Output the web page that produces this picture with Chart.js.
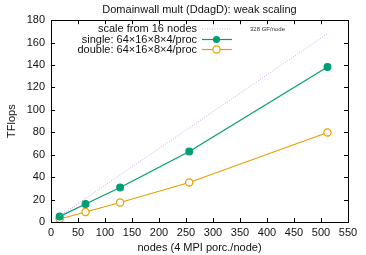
<!DOCTYPE html>
<html>
<head>
<title>weak scaling</title>
<script src="https://cdn.jsdelivr.net/npm/chart.js@4.4.1/dist/chart.umd.min.js"></script>
<style>
body { margin:0; background:#fff; }
#wrap { width:366px; height:255px; }
</style>
</head>
<body>
<div id="wrap"><canvas id="c1" width="366" height="255"></canvas></div>

<script>
var nodes = [16, 64, 128, 256, 512];
var singleTF = [5.0, 16.0, 30.8, 62.8, 138.3];
var doubleTF = [2.7, 8.9, 17.4, 35.2, 79.8];
var scaleNodes = [16, 512];
var scaleTF = [5.25, 168.0];
var legendLabels = ['scale from 16 nodes', 'single: 64\u00d716\u00d78\u00d74/proc', 'double: 64\u00d716\u00d78\u00d74/proc'];

var FONT = 'Liberation Sans, Arial, sans-serif';
var GREEN = '#009e73', ORANGE = '#e69f00', VIOLET = '#d3a4ef';
var TXT = '#111';

function pts(xs, ys) {
	return xs.map(function (x, i) { return {x: x, y: ys[i]}; });
}

// gnuplot style frame, inward mirrored ticks, key and small label
var framePlugin = {
	id: 'frame',
	afterDatasetsDraw: function (chart) {
		var c = chart.ctx, a = chart.chartArea;
		var xs = chart.scales.x, ys = chart.scales.y;
		c.save();
		c.strokeStyle = '#000';
		c.lineWidth = 1;
		c.beginPath();
		xs.ticks.forEach(function (t) {
			var px = Math.round(xs.getPixelForValue(t.value)) + 0.5;
			c.moveTo(px, a.bottom); c.lineTo(px, a.bottom - 4);
			c.moveTo(px, a.top); c.lineTo(px, a.top + 4);
		});
		ys.ticks.forEach(function (t) {
			var py = Math.round(ys.getPixelForValue(t.value)) + 0.5;
			c.moveTo(a.left, py); c.lineTo(a.left + 4, py);
			c.moveTo(a.right, py); c.lineTo(a.right - 4, py);
		});
		c.stroke();
		c.strokeRect(Math.round(a.left) + 0.5, Math.round(a.top) + 0.5, Math.round(a.right - a.left), Math.round(a.bottom - a.top));

		// key
		c.font = '11px ' + FONT;
		c.fillStyle = TXT;
		c.textAlign = 'right';
		c.textBaseline = 'middle';
		var rows = [29, 39.5, 49.5];
		legendLabels.forEach(function (lab, i) {
			c.fillText(lab, 197, rows[i]);
		});
		c.setLineDash([1, 1.5]);
		c.strokeStyle = VIOLET;
		c.beginPath(); c.moveTo(202, rows[0]); c.lineTo(232, rows[0]); c.stroke();
		c.setLineDash([]);
		c.lineWidth = 1.2;
		c.strokeStyle = GREEN;
		c.beginPath(); c.moveTo(202, rows[1]); c.lineTo(232, rows[1]); c.stroke();
		c.fillStyle = GREEN;
		c.beginPath(); c.arc(216.5, rows[1], 3.6, 0, Math.PI * 2); c.fill();
		c.strokeStyle = ORANGE;
		c.beginPath(); c.moveTo(202, rows[2]); c.lineTo(232, rows[2]); c.stroke();
		c.fillStyle = '#fff';
		c.beginPath(); c.arc(216.5, rows[2], 3.6, 0, Math.PI * 2); c.fill(); c.stroke();

		c.font = '6px ' + FONT;
		c.fillStyle = '#333';
		c.textAlign = 'left';
		c.fillText('328 GF/node', 250, 29);
		c.restore();
	}
};

var chart = new Chart(document.getElementById('c1').getContext('2d'), {
	type: 'scatter',
	data: {
		datasets: [
			{
				label: legendLabels[0],
				data: pts(scaleNodes, scaleTF),
				showLine: true,
				borderColor: VIOLET,
				borderWidth: 1,
				borderDash: [1, 1.5],
				pointRadius: 0
			},
			{
				label: legendLabels[1],
				data: pts(nodes, singleTF),
				showLine: true,
				borderColor: GREEN,
				borderWidth: 1.2,
				pointRadius: 3.4,
				pointBackgroundColor: GREEN,
				pointBorderColor: GREEN
			},
			{
				label: legendLabels[2],
				data: pts(nodes, doubleTF),
				showLine: true,
				borderColor: ORANGE,
				borderWidth: 1.2,
				pointRadius: 3.6,
				pointBorderWidth: 1.2,
				pointBackgroundColor: '#fff',
				pointBorderColor: ORANGE
			}
		]
	},
	options: {
		responsive: false,
		animation: false,
		layout: { padding: { left: 0, right: 18, top: 0, bottom: 0 } },
		plugins: {
			legend: { display: false },
			tooltip: { enabled: false },
			title: {
				display: true,
				fullSize: false,
				text: 'Domainwall mult (DdagD): weak scaling',
				color: TXT,
				font: { family: FONT, size: 11, weight: 'normal' },
				padding: { top: 3, bottom: 4 }
			}
		},
		scales: {
			x: {
				type: 'linear',
				min: 0, max: 550,
				ticks: { stepSize: 50, color: TXT, padding: 4, font: { family: FONT, size: 11 } },
				grid: { display: false, drawTicks: false },
				border: { display: false },
				title: { display: true, text: 'nodes (4 MPI porc./node)', color: TXT, font: { family: FONT, size: 11 }, padding: { top: 4, bottom: 0 } },
				afterFit: function (s) { s.height = 33; }
			},
			y: {
				min: 0, max: 180,
				ticks: { stepSize: 20, color: TXT, padding: 6, font: { family: FONT, size: 11 } },
				grid: { display: false, drawTicks: false },
				border: { display: false },
				title: { display: true, text: 'TFlops', color: TXT, font: { family: FONT, size: 11 }, padding: { top: 5, bottom: 0 } },
				afterFit: function (s) { s.width = 51; }
			}
		}
	},
	plugins: [framePlugin]
});
</script>
</body>
</html>
